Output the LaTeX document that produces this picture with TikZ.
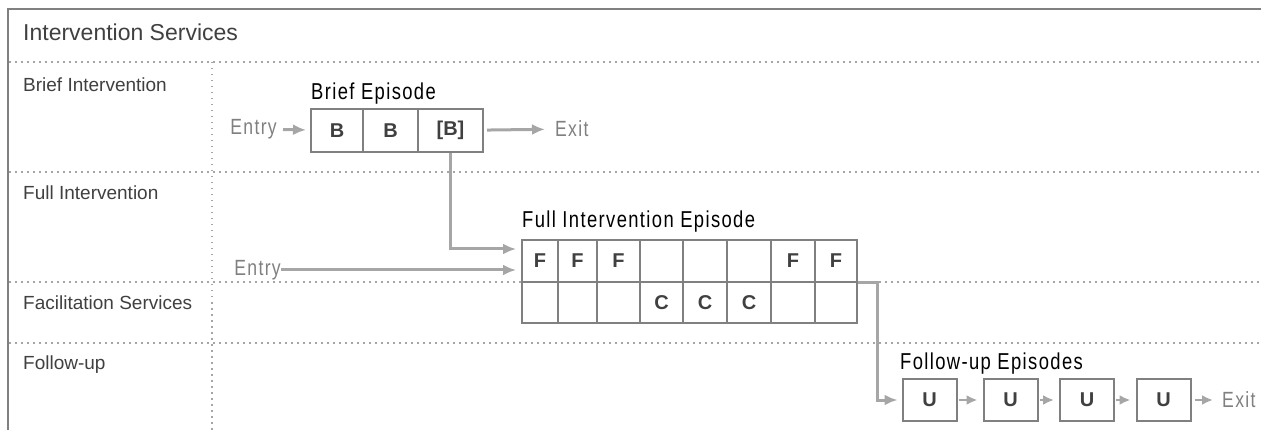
\documentclass[tikz,border=0pt]{standalone}
\usepackage{fontspec}
\setmainfont{Liberation Sans}
\newfontfamily\narrowfont[FakeStretch=0.8,LetterSpace=6]{Liberation Sans}
\usetikzlibrary{arrows.meta, positioning, calc}
\definecolor{frameGray}{RGB}{128, 128, 128}
\definecolor{arrowGray}{RGB}{166, 166, 166}
\definecolor{dotGray}{RGB}{165, 165, 165}
\definecolor{textGray}{RGB}{64, 64, 64}
\definecolor{portGray}{RGB}{128, 128, 128}

\begin{document}
\begin{tikzpicture}[
    x=1pt, y=-1pt,
    frame/.style={draw=frameGray, line width=2pt},
    lane/.style={draw=dotGray, line width=1.5pt, dash pattern=on 1.5pt off 4.5pt},
    lanelabel/.style={anchor=base west, inner sep=0pt, font=\fontsize{19}{22}\selectfont, text=textGray},
    cell/.style={rectangle, draw=frameGray, line width=2pt, minimum height=43pt, inner sep=0pt, font=\bfseries\fontsize{20}{23}\selectfont, text=textGray},
    episode/.style={anchor=base west, inner sep=0pt, font=\narrowfont\fontsize{23}{26}\selectfont},
    port/.style={inner sep=0pt, font=\narrowfont\fontsize{22}{25}\selectfont, text=portGray},
    flow/.style={-{Latex[length=13pt,width=11pt]}, draw=arrowGray, line width=3pt},
    smallflow/.style={-{Latex[length=11pt,width=10pt]}, draw=arrowGray, line width=2.5pt}
]
    \useasboundingbox (0,0) rectangle (1261,430);

    % Outer frame and swim lanes
    \draw[frame] (8,430) -- (8,9) -- (1261,9);
    \foreach \y in {62,172,282,343}
        \draw[lane] (9,\y) -- (1261,\y);
    \draw[lane] (212,62) -- (212,430);

    % Lane labels
    \node[lanelabel, font=\fontsize{23}{26}\selectfont] (title) at (23,41) {Intervention Services};
    \node[lanelabel] (laneBrief) at (23,92) {Brief Intervention};
    \node[lanelabel] (laneFull) at (23,200) {Full Intervention};
    \node[lanelabel] (laneFacil) at (23,309) {Facilitation Services};
    \node[lanelabel] (laneFollow) at (23,370) {Follow-up};

    % Brief episode
    \node[episode] (briefTitle) at (311,100) {Brief Episode};
    \node[cell, minimum width=52pt] (b1) at (337,130.5) {B};
    \node[cell, minimum width=55pt] (b2) at (390.5,130.5) {B};
    \node[cell, minimum width=65pt] (b3) at (450.5,130.5) {[B]};
    \node[port, anchor=east] (entryB) at (277,129) {Entry};
    \node[port, anchor=west] (exitB) at (555,129) {Exit};

    % Full intervention episode (F row and C row)
    \node[episode] (fullTitle) at (522,228) {Full Intervention Episode};
    \foreach \xl/\xr/\ft/\ct [count=\i] in {522/558/F/{}, 558/597/F/{}, 597/640/F/{}, 640/683/{}/C, 683/727/{}/C, 727/771/{}/C, 771/815/F/{}, 815/857/F/{}} {
        \node[cell, minimum width={(\xr-\xl)*1pt}, minimum height=42pt] (f\i) at ({(\xl+\xr)/2},261) {\ft};
        \node[cell, minimum width={(\xr-\xl)*1pt}, minimum height=41pt] (c\i) at ({(\xl+\xr)/2},302.5) {\ct};
    }
    \node[port, anchor=east] (entryF) at (281,270) {Entry};

    % Follow-up episodes
    \node[episode] (followTitle) at (900,370) {Follow-up Episodes};
    \foreach \x [count=\i] in {929.5,1010.5,1087,1163.5}
        \node[cell, minimum width=54pt, minimum height=42pt] (u\i) at (\x,400) {U};
    \node[port, anchor=west] (exitU) at (1222,400) {Exit};

    % Brief connections
    \draw[flow, shorten <=6pt, shorten >=4pt] (entryB) -- (b1);
    \draw[flow, shorten <=3pt, shorten >=10pt] (b3) -- (exitB);
    \draw[flow, shorten >=5pt] (b3.south) |- ([yshift=12pt]f1.west);

    % Full connections
    \draw[flow, shorten >=5pt] (entryF.east) -- (f1.west |- entryF.east);
    \draw[flow, shorten >=4pt] (f8.south east) -- ++(19,0) |- (u1.west);

    % Follow-up connections
    \foreach \i/\j in {1/2,2/3,3/4}
        \draw[smallflow, shorten <=1pt, shorten >=5pt] (u\i) -- (u\j);
    \draw[smallflow, shorten <=3pt, shorten >=9pt] (u4) -- (exitU);
\end{tikzpicture}
\end{document}
